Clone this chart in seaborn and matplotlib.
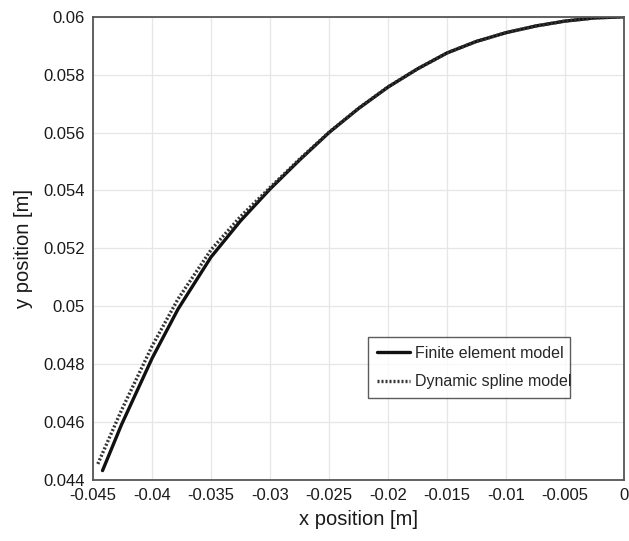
import matplotlib
matplotlib.use("Agg")
import matplotlib.pyplot as plt
import seaborn as sns
import pandas as pd
from matplotlib.ticker import FuncFormatter, MultipleLocator

# values
fe_x = [-0.0442, -0.0426, -0.04, -0.0378, -0.035, -0.0325, -0.03, -0.0275, -0.025,
        -0.0225, -0.02, -0.0175, -0.015, -0.0125, -0.01, -0.0075, -0.005, -0.0025, 0.0]
fe_y = [0.04432, 0.0459, 0.0482, 0.0499, 0.0517, 0.05295, 0.05405, 0.05505, 0.0560,
        0.05683, 0.05757, 0.0582, 0.05875, 0.05915, 0.05945, 0.05968, 0.05985, 0.05996, 0.06]

ds_x = [-0.0446, -0.0426, -0.04, -0.0378, -0.035, -0.0325, -0.03, -0.0275, -0.025,
        -0.0225, -0.02, -0.0175, -0.015, -0.0125, -0.01, -0.0075, -0.005, -0.0025, 0.0]
ds_y = [0.04455, 0.0464, 0.04862, 0.05025, 0.05195, 0.0531, 0.0541, 0.05508, 0.05601,
        0.05684, 0.05758, 0.0582, 0.05875, 0.05915, 0.05945, 0.05968, 0.05985, 0.05996, 0.06]

labels = ["Finite element model", "Dynamic spline model"]

sns.set_style("whitegrid")
plt.rcParams["font.family"] = ["Liberation Sans", "DejaVu Sans"]

fig = plt.figure(figsize=(6.29, 5.41), dpi=100)
ax = fig.add_axes([0.148, 0.113, 0.844, 0.856])

df1 = pd.DataFrame({"x": fe_x, "y": fe_y})
df2 = pd.DataFrame({"x": ds_x, "y": ds_y})
sns.lineplot(data=df1, x="x", y="y", sort=False, color="#111111", lw=2.4,
             solid_joinstyle="round", label=labels[0], ax=ax)
sns.lineplot(data=df2, x="x", y="y", sort=False, color="#333333", lw=2.4,
             linestyle=(0, (0.6, 0.6)), label=labels[1], ax=ax)

ax.set_xlim(-0.045, 0)
ax.set_ylim(0.044, 0.06)
ax.xaxis.set_major_locator(MultipleLocator(0.005))
ax.yaxis.set_major_locator(MultipleLocator(0.002))
fmt = FuncFormatter(lambda v, p: "%g" % round(v, 4))
ax.xaxis.set_major_formatter(fmt)
ax.yaxis.set_major_formatter(fmt)

ax.grid(True, color="#e6e6e6", lw=0.9)
for s in ax.spines.values():
    s.set_color("#555555")
    s.set_linewidth(1.3)
ax.tick_params(direction="in", length=3, color="#999999", labelsize=12,
               labelcolor="#1a1a1a", pad=6)
ax.set_xlabel("x position [m]", fontsize=14.5, color="#1a1a1a", labelpad=5)
ax.set_ylabel("y position [m]", fontsize=14.5, color="#1a1a1a", labelpad=7)

leg = ax.legend(loc="lower left", bbox_to_anchor=(0.518, 0.177, 0.38, 0.14),
                mode="expand", fancybox=False, frameon=True, fontsize=11.5,
                handlelength=2.1, handletextpad=0.3, borderpad=0.55,
                labelspacing=0.85, borderaxespad=0)
leg.get_frame().set_edgecolor("#333333")
leg.get_frame().set_linewidth(1.0)

fig.savefig("out.png", dpi=100)
